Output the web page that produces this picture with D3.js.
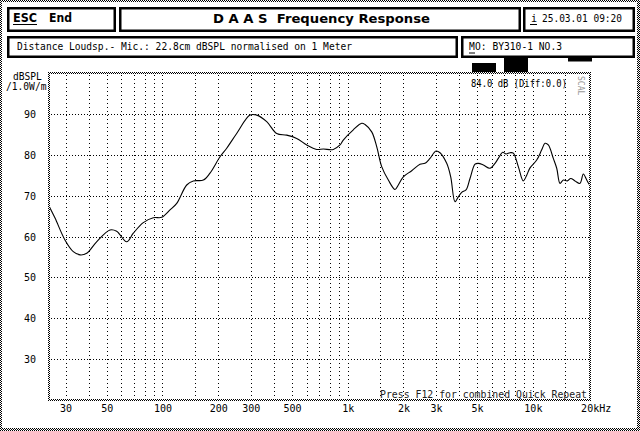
<!DOCTYPE html>
<html><head><meta charset="utf-8">
<script src="https://cdn.jsdelivr.net/npm/d3@7"></script>
<style>html,body{margin:0;padding:0;background:#fff;}svg{display:block;}text{white-space:pre;}</style>
</head><body>
<svg id="c" width="640" height="431"></svg>
<script>
// ---- data ----
const freqs = [24.5,26.3,29.8,33.0,35.9,39.0,44.1,52.1,56.6,64.1,69.6,78.8,89.3,99.1,109.8,119.4,135.2,146.7,166.2,180.6,204.5,222.3,251.6,297,322.8,365.5,413.8,468.7,530.7,601,680.8,738.8,836.5,909,947,1072.6,1190.7,1240.8,1348.4,1434.8,1526.7,1658,1802,1876.9,1997,2217,2458,2615,2783,2999,3152,3426,3601,3799,3958,4128,4355,4577,4873,5075,5400,5868,6246,6507,6876,7164,7528,7842,8345,8879,9265,9653,10490,11163,11629,12117,12893,13452,14015,14601,15348,16009,16887,17971,18725,19537,20355];
const splValues = [67.3,64.5,59.1,56.3,55.5,55.9,58.7,61.6,61.3,58.7,60.8,63.4,64.6,64.7,66.5,68.1,72.6,73.6,73.8,75.5,79.5,81.6,85.2,89.7,89.7,88.1,85.2,84.8,84.0,82.4,81.3,81.4,81.3,82.4,83.6,86.1,87.7,87.4,85.6,82.0,77.1,73.8,71.5,72.6,74.6,76.1,77.7,77.9,79.1,80.9,80.5,77.9,74.6,68.5,69.7,70.8,71.4,74.2,77.7,77.9,77.5,76.7,77.9,79.1,80.6,80.2,80.5,80.4,77.1,73.6,75.0,76.8,78.7,81.2,82.8,82.4,79.1,76.7,73.0,73.8,73.6,74.2,73.6,73.0,75.3,73.8,72.4];
const yTickValues = [30,40,50,60,70,80,90];
const xTickValues = [30,50,100,200,300,500,1000,2000,3000,5000,10000,20000];
const xTickLabels = ["30","50","100","200","300","500","1k","2k","3k","5k","10k","20kHz"];
const xGridValues = [30,40,50,60,70,80,90,100,150,200,300,400,500,600,700,800,900,1000,1500,2000,3000,4000,5000,6000,7000,8000,9000,10000,15000];
const titleText = "D A A S  Frequency Response";
const infoText = "Distance Loudsp.- Mic.: 22.8cm dBSPL normalised on 1 Meter";
const dateText = "25.03.01 09:20";
const modelText = "O: BY310-1 NO.3";
const levelText = "84.0 dB (Diff:0.0)";
const footText = "Press F12 for combined Quick Repeat";

const svg = d3.select("#c");
const mono = "'DejaVu Sans Mono', monospace";
const sans = "'DejaVu Sans', sans-serif";

const defs = svg.append("defs");
const pat = defs.append("pattern").attr("id","chk").attr("width",2).attr("height",2).attr("patternUnits","userSpaceOnUse");
pat.append("rect").attr("x",0).attr("y",0).attr("width",1).attr("height",1).attr("fill","#000");
pat.append("rect").attr("x",1).attr("y",1).attr("width",1).attr("height",1).attr("fill","#000");
defs.append("clipPath").attr("id","plotclip").append("rect").attr("x",50).attr("y",74).attr("width",539).attr("height",325);

// outer frame (dithered)
[[0,0,640,2],[0,428,640,3],[0,0,2,431],[637,0,3,431]].forEach(r=>{
  svg.append("rect").attr("x",r[0]).attr("y",r[1]).attr("width",r[2]).attr("height",r[3]).attr("fill","url(#chk)").attr("shape-rendering","crispEdges");
});

// header boxes
const boxes = [[7,7,109,25],[119,7,402,25],[523,7,112,25],[7,36,451,22],[461,36,174,22]];
boxes.forEach(b=>{
  svg.append("rect").attr("x",b[0]+1.25).attr("y",b[1]+1.25).attr("width",b[2]-2.5).attr("height",b[3]-2.5)
    .attr("fill","none").attr("stroke","#000").attr("stroke-width",2.5);
});

function txt(x,y,s,opts){
  const t = svg.append("text").attr("x",x).attr("y",y).text(s)
    .attr("font-family",opts.family||mono).attr("font-size",opts.size||10)
    .attr("font-weight",opts.weight||"normal").attr("fill",opts.fill||"#000")
    .attr("text-anchor",opts.anchor||"start");
  if(opts.len){ t.attr("textLength",opts.len).attr("lengthAdjust","spacingAndGlyphs"); }
  return t;
}
// ESC End
txt(13,22,"ESC",{family:sans,weight:"bold",size:11.5,len:24});
svg.append("line").attr("x1",13).attr("x2",37).attr("y1",24.5).attr("y2",24.5).attr("stroke","#000").attr("stroke-width",1);
txt(49,22,"End",{family:sans,weight:"bold",size:11.5,len:23});
// title
txt(213,23,titleText,{family:sans,weight:"bold",size:11.5,len:217});
// date
txt(531,21.5,"i",{size:10});
svg.append("line").attr("x1",530).attr("x2",537).attr("y1",24.5).attr("y2",24.5).attr("stroke","#000");
txt(542,21.5,dateText,{size:10,len:80});
// info row
txt(17,50,infoText,{size:9.6,len:335});
txt(469,49.5,"M",{size:9.6});
svg.append("line").attr("x1",469).attr("x2",475).attr("y1",53).attr("y2",53).attr("stroke","#000");
txt(475,49.5,modelText,{size:9.6,len:87});

// black marks under model box
[[472,63,24,9],[504,58,24,14],[568,58,24,3.5]].forEach(r=>{
  svg.append("rect").attr("x",r[0]).attr("y",r[1]).attr("width",r[2]).attr("height",r[3]).attr("fill","#000");
});

// scales
const x = d3.scaleLog().domain([24.4,20600]).range([49,591]);
const y = d3.scaleLinear().domain([20,100]).range([400,73]);

// grid
const grid = svg.append("g");
grid.selectAll("line.v").data(xGridValues).join("line")
  .attr("x1",d=>Math.round(x(d))+0.5).attr("x2",d=>Math.round(x(d))+0.5)
  .attr("y1",75).attr("y2",399).attr("stroke","#000").attr("stroke-width",1).attr("stroke-dasharray","1,3");
grid.selectAll("line.h").data(yTickValues).join("line")
  .attr("x1",51).attr("x2",589).attr("y1",d=>Math.round(y(d))+0.5).attr("y2",d=>Math.round(y(d))+0.5)
  .attr("stroke","#000").attr("stroke-width",1).attr("stroke-dasharray","1,2");

// plot border (dithered)
[[48,72,543,2],[48,399,543,2],[48,72,2,329],[589,72,2,329]].forEach(r=>{
  svg.append("rect").attr("x",r[0]).attr("y",r[1]).attr("width",r[2]).attr("height",r[3]).attr("fill","url(#chk)").attr("shape-rendering","crispEdges");
});

// y axis labels
const yAxis = d3.axisLeft(y).tickValues(yTickValues).tickSize(0).tickPadding(0);
const ya = svg.append("g").attr("transform","translate(36,0)").call(yAxis);
ya.select(".domain").remove();
ya.selectAll("text").attr("font-family",mono).attr("font-size",10).attr("fill","#000").attr("dy","0.35em");
txt(13,80,"dBSPL",{size:9.6});
txt(6,90,"/1.0W/m",{size:9.6});

// x axis labels
const xAxis = d3.axisBottom(x).tickValues(xTickValues).tickSize(0).tickPadding(0).tickFormat((d,i)=>xTickLabels[i]);
const xa = svg.append("g").attr("transform","translate(0,405)").call(xAxis);
xa.select(".domain").remove();
xa.selectAll("text").attr("font-family",mono).attr("font-size",10).attr("fill","#000").attr("dy","0.7em");
xa.selectAll(".tick").filter(d=>d===20000).select("text").attr("text-anchor","start").attr("x",-8);

// curve
const data = freqs.map((f,i)=>[f,splValues[i]]);
const line = d3.line().x(d=>x(d[0])).y(d=>y(d[1])).curve(d3.curveCatmullRom.alpha(0.5));
svg.append("path").datum(data).attr("d",line).attr("fill","none").attr("stroke","#000")
  .attr("stroke-width",1.1).attr("clip-path","url(#plotclip)");

// level text
txt(471,87,levelText,{size:9.6,len:96});
// faint vertical label
txt(0,0,"SCAL",{size:8,fill:"#999"}).attr("transform","translate(578,76) rotate(90)");
// footer
txt(380,398,footText,{size:9.6,len:207,fill:"#222"});
</script>
</body></html>
